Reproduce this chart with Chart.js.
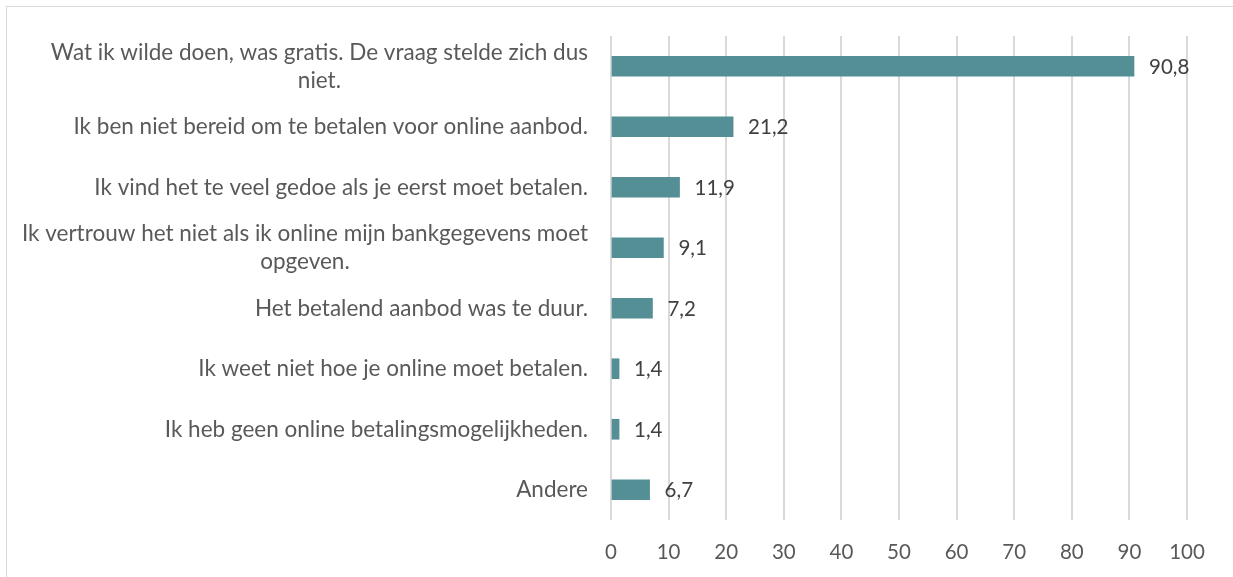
<!DOCTYPE html>
<html>
<head>
<meta charset="utf-8">
<script src="https://cdn.jsdelivr.net/npm/chart.js@4/dist/chart.umd.min.js"></script>
<style>
  html, body { margin: 0; padding: 0; background: #fff; }
  #wrap { position: relative; width: 1233px; height: 577px; overflow: hidden; }
  #frame { position: absolute; left: 6px; top: 6px; width: 1240px; height: 600px; border: 1px solid #d9d9d9; }
  canvas { position: absolute; left: 0; top: 0; }
</style>
</head>
<body>
<div id="wrap">
  <div id="frame"></div>
  <canvas id="myChart" width="1233" height="577"></canvas>
</div>
<script>
// categorieën (meerdere regels waar Excel afbreekt)
const categories = [
  ["Wat ik wilde doen, was gratis. De vraag stelde zich dus", "niet."],
  ["Ik ben niet bereid om te betalen voor online aanbod."],
  ["Ik vind het te veel gedoe als je eerst moet betalen."],
  ["Ik vertrouw het niet als ik online mijn bankgegevens moet", "opgeven."],
  ["Het betalend aanbod was te duur."],
  ["Ik weet niet hoe je online moet betalen."],
  ["Ik heb geen online betalingsmogelijkheden."],
  ["Andere"]
];
const values = [90.8, 21.2, 11.9, 9.1, 7.2, 1.4, 1.4, 6.7];
const xTicks = [0, 10, 20, 30, 40, 50, 60, 70, 80, 90, 100];

const fontFam = "Lato, 'Noto Sans', sans-serif";
const labelSize = 22.5;
const numSize = 20.5;
const textColor = "#595959";

// labels links: regels gecentreerd t.o.v. elkaar, blok rechts uitgelijnd
const labelPlugin = {
  id: "leftLabels",
  afterDraw(chart) {
    const ctx = chart.ctx;
    const yScale = chart.scales.y;
    const rightX = chart.chartArea.left - 23;
    ctx.save();
    ctx.font = labelSize + "px " + fontFam;
    ctx.fillStyle = textColor;
    ctx.textAlign = "center";
    ctx.textBaseline = "middle";
    const lh = 28;
    categories.forEach((lines, i) => {
      const yc = yScale.getPixelForValue(i);
      let maxW = 0;
      lines.forEach(l => { maxW = Math.max(maxW, ctx.measureText(l).width); });
      const cx = rightX - maxW / 2;
      const y0 = yc - (lines.length - 1) * lh / 2;
      lines.forEach((l, k) => ctx.fillText(l, cx, y0 + k * lh));
    });
    ctx.restore();
  }
};

// waarden naast de balken
const valuePlugin = {
  id: "valueLabels",
  afterDatasetsDraw(chart) {
    const ctx = chart.ctx;
    const meta = chart.getDatasetMeta(0);
    ctx.save();
    ctx.font = numSize + "px " + fontFam;
    ctx.fillStyle = "#404040";
    ctx.textAlign = "left";
    ctx.textBaseline = "middle";
    meta.data.forEach((bar, i) => {
      ctx.fillText(values[i].toFixed(1).replace(".", ","), bar.x + 15, bar.y + 1);
    });
    ctx.restore();
  }
};

const config = {
  type: "bar",
  data: {
    labels: categories.map(c => c.join(" ")),
    datasets: [{
      data: values,
      backgroundColor: "#538F95",
      borderWidth: 0,
      barThickness: 20
    }]
  },
  options: {
    indexAxis: "y",
    responsive: false,
    animation: false,
    layout: { padding: { left: 0, right: 46, top: 36, bottom: 0 } },
    plugins: { legend: { display: false }, tooltip: { enabled: false } },
    scales: {
      x: {
        min: 0,
        max: 100,
        afterBuildTicks: (axis) => { axis.ticks = xTicks.map(v => ({ value: v })); },
        grid: { color: "#d9d9d9", lineWidth: 2, drawTicks: false },
        border: { display: false },
        ticks: {
          color: textColor,
          font: { family: fontFam, size: numSize },
          padding: 20
        },
        afterFit: (axis) => { axis.height = 57; }
      },
      y: {
        grid: { display: false, drawTicks: false },
        border: { display: false },
        ticks: { display: false },
        afterFit: (axis) => { axis.width = 611; }
      }
    }
  },
  plugins: [labelPlugin, valuePlugin]
};

let context = document.getElementById("myChart").getContext("2d");
let chart = new Chart(context, config);
</script>
</body>
</html>
